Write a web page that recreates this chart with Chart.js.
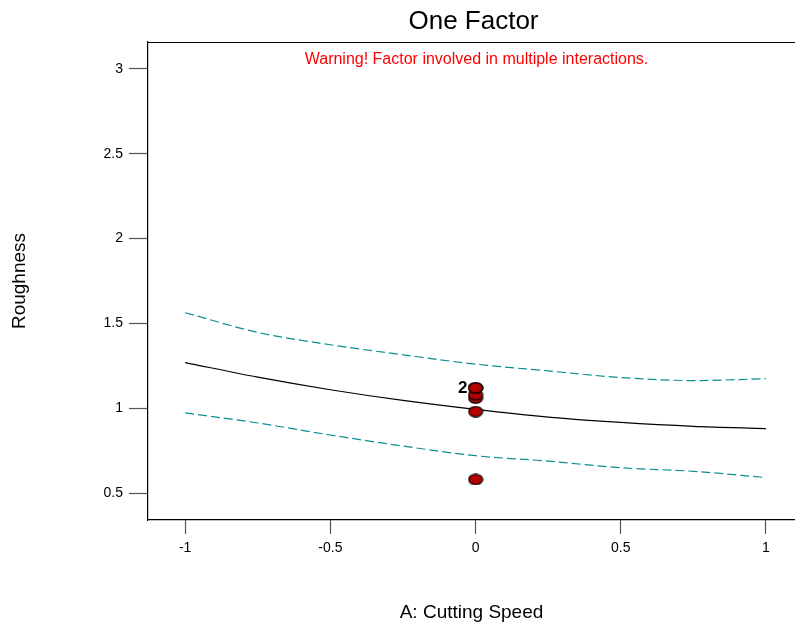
<!DOCTYPE html>
<html>
<head>
<meta charset="utf-8">
<title>One Factor</title>
<script src="https://cdn.jsdelivr.net/npm/chart.js@4/dist/chart.umd.min.js"></script>
<style>
  html, body { margin: 0; padding: 0; background: #ffffff; }
  #wrap { width: 795px; height: 624px; }
</style>
</head>
<body>
<div id="wrap"><canvas id="chart" width="795" height="624"></canvas></div>
<script>
// Factor levels (coded) at which the prediction curves are read
const factorLevels = [-1, -0.75, -0.5, -0.25, 0, 0.25, 0.5, 0.75, 1];
// Predicted roughness and its 95% confidence band
const predicted = [1.269, 1.183, 1.109, 1.046, 0.993, 0.948, 0.916, 0.893, 0.880];
const upperBand = [1.563, 1.447, 1.374, 1.315, 1.260, 1.220, 1.181, 1.163, 1.174];
const lowerBand = [0.973, 0.913, 0.842, 0.777, 0.720, 0.688, 0.649, 0.628, 0.591];
// Observed design points (all at the centre level of A)
const runLevels = [0, 0, 0, 0, 0, 0];
const runRoughness = [0.58, 0.98, 1.06, 1.08, 1.12, 1.12];
// Axis ticks
const xTickValues = [-1, -0.5, 0, 0.5, 1];
const yTickValues = [0.5, 1, 1.5, 2, 2.5, 3];

const chartTitle = 'One Factor';
const warningText = 'Warning! Factor involved in multiple interactions.';
const xTitle = 'A: Cutting Speed';
const yTitle = 'Roughness';

const FONT = '"Liberation Sans", Arial, sans-serif';

function pairs(xs, ys) { return xs.map((x, i) => ({ x: x, y: ys[i] })); }

// Red elliptical marker with black outline
function ellipseMarker() {
  const c = document.createElement('canvas');
  c.width = 16; c.height = 12;
  const g = c.getContext('2d');
  g.beginPath();
  g.ellipse(8, 6, 7, 5.2, 0, 0, Math.PI * 2);
  g.fillStyle = '#b30000';
  g.fill();
  g.lineWidth = 1.2;
  g.strokeStyle = '#000000';
  g.stroke();
  return c;
}

// Title, warning note, top frame line and replicate counts
const decorations = {
  id: 'decorations',
  afterDraw(chart) {
    const { ctx, chartArea } = chart;
    const cx = (chartArea.left + chartArea.right) / 2;
    ctx.save();
    ctx.strokeStyle = '#000000';
    ctx.lineWidth = 1.2;
    ctx.beginPath();
    ctx.moveTo(chartArea.left, chartArea.top + 0.5);
    ctx.lineTo(chartArea.right, chartArea.top + 0.5);
    ctx.stroke();

    ctx.textAlign = 'center';
    ctx.textBaseline = 'middle';
    ctx.fillStyle = '#000000';
    ctx.font = '26px ' + FONT;
    ctx.fillText(chartTitle, cx + 2, 22);

    ctx.fillStyle = '#ff0000';
    ctx.font = '16px ' + FONT;
    ctx.fillText(warningText, cx + 5, 60);
    ctx.restore();
  },
  afterDatasetsDraw(chart) {
    const { ctx, scales } = chart;
    const counts = {};
    runLevels.forEach((x, i) => {
      const key = x + '|' + runRoughness[i];
      counts[key] = (counts[key] || 0) + 1;
    });
    ctx.save();
    ctx.fillStyle = '#000000';
    ctx.font = 'bold 17px ' + FONT;
    ctx.textAlign = 'right';
    ctx.textBaseline = 'middle';
    Object.keys(counts).forEach(key => {
      if (counts[key] < 2) return;
      const [x, y] = key.split('|').map(Number);
      ctx.fillText(String(counts[key]), scales.x.getPixelForValue(x) - 8, scales.y.getPixelForValue(y));
    });
    ctx.restore();
  }
};

const marker = ellipseMarker();

new Chart(document.getElementById('chart'), {
  type: 'scatter',
  data: {
    datasets: [
      {
        label: 'Design points',
        data: pairs(runLevels, runRoughness),
        pointStyle: marker,
        pointRadius: 7,
        order: 0
      },
      {
        label: 'Prediction',
        type: 'line',
        data: pairs(factorLevels, predicted),
        borderColor: '#000000',
        borderWidth: 1.2,
        pointRadius: 0,
        fill: false,
        cubicInterpolationMode: 'monotone',
        order: 1
      },
      {
        label: 'Upper 95% CI',
        type: 'line',
        data: pairs(factorLevels, upperBand),
        borderColor: '#0b8f8f',
        borderWidth: 1.2,
        borderDash: [9, 4],
        pointRadius: 0,
        fill: false,
        cubicInterpolationMode: 'monotone',
        order: 2
      },
      {
        label: 'Lower 95% CI',
        type: 'line',
        data: pairs(factorLevels, lowerBand),
        borderColor: '#0b8f8f',
        borderWidth: 1.2,
        borderDash: [9, 4],
        pointRadius: 0,
        fill: false,
        cubicInterpolationMode: 'monotone',
        order: 3
      }
    ]
  },
  options: {
    responsive: false,
    animation: false,
    devicePixelRatio: 1,
    layout: { autoPadding: false, padding: { top: 42, left: 0, right: 0, bottom: 0 } },
    plugins: {
      legend: { display: false },
      tooltip: { enabled: false },
      title: { display: false }
    },
    scales: {
      x: {
        type: 'linear',
        min: -1.128,
        max: 1.1,
        afterBuildTicks(scale) { scale.ticks = xTickValues.map(v => ({ value: v })); },
        afterFit(scale) {
          scale.height = 104;
          scale.paddingLeft = 0;
          scale.paddingRight = 0;
        },
        grid: {
          drawOnChartArea: false,
          drawTicks: true,
          tickLength: 14,
          tickColor: '#555555',
          tickWidth: 1.2
        },
        border: { display: true, color: '#000000', width: 1.2 },
        ticks: {
          padding: 6,
          color: '#000000',
          font: { family: FONT, size: 14 },
          maxRotation: 0,
          autoSkip: false,
          callback: v => String(v)
        },
        title: {
          display: true,
          text: xTitle,
          color: '#000000',
          font: { family: FONT, size: 19 },
          padding: { top: 0, bottom: 0 }
        }
      },
      y: {
        type: 'linear',
        min: 0.341,
        max: 3.159,
        afterBuildTicks(scale) { scale.ticks = yTickValues.map(v => ({ value: v })); },
        afterFit(scale) {
          scale.width = 148;
          scale.paddingTop = 0;
          scale.paddingBottom = 0;
        },
        grid: {
          drawOnChartArea: false,
          drawTicks: true,
          tickLength: 19,
          tickColor: '#555555',
          tickWidth: 1.2
        },
        border: { display: true, color: '#000000', width: 1.2 },
        ticks: {
          padding: 6,
          color: '#000000',
          font: { family: FONT, size: 14 },
          autoSkip: false,
          callback: v => String(v)
        },
        title: {
          display: true,
          text: yTitle,
          color: '#000000',
          font: { family: FONT, size: 19 },
          padding: { top: 8, bottom: 0 }
        }
      }
    }
  },
  plugins: [decorations]
});
</script>
</body>
</html>
